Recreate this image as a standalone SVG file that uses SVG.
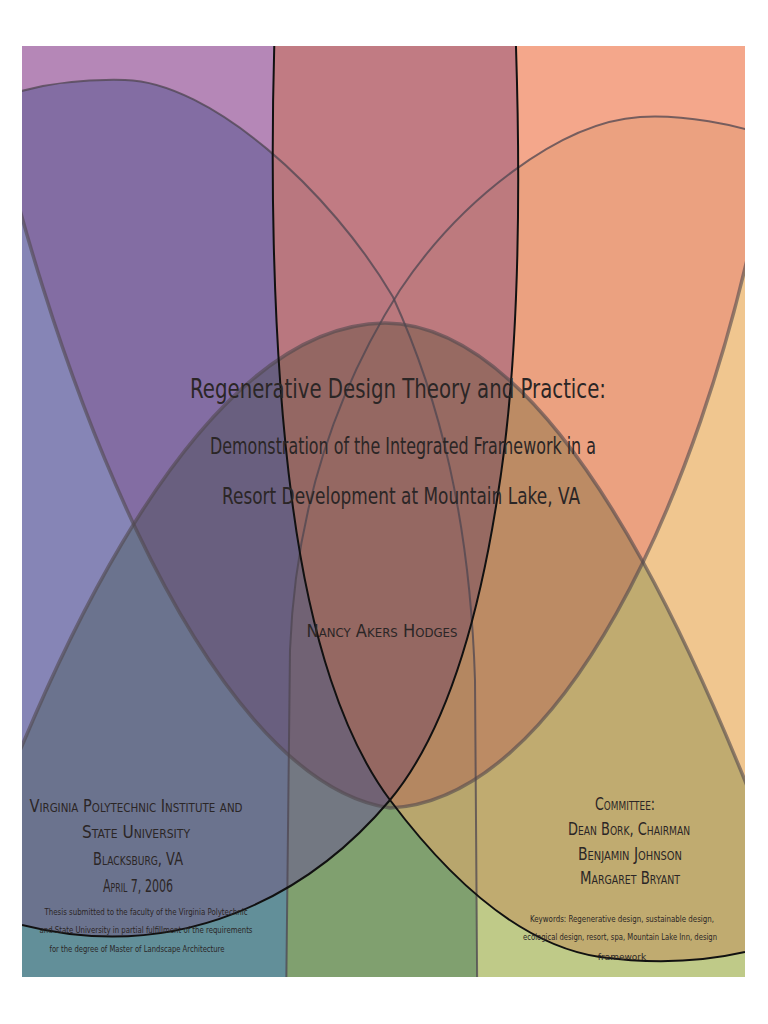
<svg xmlns="http://www.w3.org/2000/svg" width="768" height="1024" viewBox="0 0 768 1024">
<defs>
<clipPath id="page"><rect x="22" y="46" width="723" height="931"/></clipPath>
<path id="pEL" d="M512,-50 C522,150 522,350 497,500 C475,640 440,740 390,800 C310,895 180,965 22,925 L-100,880 L-100,-50 Z"/>
<path id="pER" d="M278,-50 C268,150 272,350 292,500 C310,640 345,740 390,800 C450,880 520,945 600,957 C660,965 710,960 745,952 L900,900 L900,-50 Z"/>
<path id="pP" d="M-100,180 C-60,100 40,78 125,80 C210,82 330,190 393,297 C440,400 470,520 475,680 L478,1100 L-100,1100 Z"/>
<path id="pO" d="M900,230 C860,150 720,112 640,117 C560,122 460,200 400,290 C330,400 295,520 290,650 L285,1100 L900,1100 Z"/>
<path id="pU" d="M-20,40 C40,350 200,780 390,808 C560,800 700,500 760,200 L760,-100 L-20,-100 Z"/>
<path id="pC" d="M-100,1100 C30,650 200,325 385,323 C570,325 730,700 860,1100 Z"/>
<clipPath id="ecl"><use href="#pEL"/><use href="#pER"/></clipPath>
</defs>
<style>
.t{font-family:"DejaVu Sans","Liberation Sans",sans-serif;fill:#2b2626;text-anchor:middle}
.sc{font-variant:small-caps}
.mul{mix-blend-mode:multiply}
.thin{fill:none;stroke:#4e4650;stroke-width:2;stroke-opacity:.75}
.thick{fill:none;stroke:#50484c;stroke-width:3.5;stroke-opacity:.6}
.blk{fill:none;stroke:#111;stroke-width:2}
</style>
<rect width="768" height="1024" fill="#fff"/>
<g id="shapes" clip-path="url(#page)">
<rect x="0" y="0" width="768" height="1024" fill="#fff8d8"/>
<use href="#pP" fill="#1f637f" fill-opacity=".7"/>
<use href="#pO" fill="#94ab53" fill-opacity=".6"/>
<use href="#pEL" fill="#d7c8e0" fill-opacity=".6"/>
<use href="#pER" fill="#f8c690" fill-opacity=".85"/>
<use href="#pEL" fill="#ccc0ee" class="mul"/>
<use href="#pU" fill="#fad0e4" class="mul"/>
<use href="#pC" fill="#ccddc7" class="mul" clip-path="url(#ecl)"/>
</g>
<g id="outlines" clip-path="url(#page)">
<use href="#pP" class="thin"/>
<use href="#pO" class="thin"/>
<use href="#pU" class="thick"/>
<use href="#pC" class="thick"/>
<path class="blk" d="M512,-50 C522,150 522,350 497,500 C475,640 440,740 390,800"/>
<path class="blk" d="M278,-50 C268,150 272,350 292,500 C310,640 345,740 390,800"/>
<path class="blk" stroke-width="3.5" d="M390,800 C310,895 180,965 22,925"/>
<path class="blk" stroke-width="3.5" d="M390,800 C450,880 520,945 600,957 C660,965 710,960 745,952"/>
</g>
<g id="title">
<text class="t" x="398" y="398" font-size="27" textLength="416" lengthAdjust="spacingAndGlyphs">Regenerative Design Theory and Practice:</text>
<text class="t" x="403" y="454" font-size="23" textLength="386" lengthAdjust="spacingAndGlyphs">Demonstration of the Integrated Framework in a</text>
<text class="t" x="401" y="504" font-size="23" textLength="358" lengthAdjust="spacingAndGlyphs">Resort Development at Mountain Lake, VA</text>
</g>
<g id="author">
<text class="t sc" x="382" y="637" font-size="18" textLength="151" lengthAdjust="spacingAndGlyphs">Nancy Akers Hodges</text>
</g>
<g id="institution">
<text class="t sc" x="136" y="812" font-size="17" textLength="213" lengthAdjust="spacingAndGlyphs">Virginia Polytechnic Institute and</text>
<text class="t sc" x="136" y="838" font-size="17" textLength="108" lengthAdjust="spacingAndGlyphs">State University</text>
<text class="t sc" x="138" y="865" font-size="17" textLength="90" lengthAdjust="spacingAndGlyphs">Blacksburg, VA</text>
<text class="t sc" x="138" y="892" font-size="17" textLength="70" lengthAdjust="spacingAndGlyphs">April 7, 2006</text>
<text class="t" x="146" y="915" font-size="9" textLength="203" lengthAdjust="spacingAndGlyphs">Thesis submitted to the faculty of the Virginia Polytechnic</text>
<text class="t" x="146" y="933" font-size="9" textLength="213" lengthAdjust="spacingAndGlyphs">and State University in partial fulfillment of the requirements</text>
<text class="t" x="137" y="952" font-size="9" textLength="175" lengthAdjust="spacingAndGlyphs">for the degree of Master of Landscape Architecture</text>
</g>
<g id="committee">
<text class="t sc" x="625" y="810" font-size="17" textLength="60" lengthAdjust="spacingAndGlyphs">Committee:</text>
<text class="t sc" x="629" y="835" font-size="17" textLength="122" lengthAdjust="spacingAndGlyphs">Dean Bork, Chairman</text>
<text class="t sc" x="630" y="860" font-size="17" textLength="104" lengthAdjust="spacingAndGlyphs">Benjamin Johnson</text>
<text class="t sc" x="630" y="884" font-size="17" textLength="100" lengthAdjust="spacingAndGlyphs">Margaret Bryant</text>
<text class="t" x="622" y="922" font-size="9" textLength="184" lengthAdjust="spacingAndGlyphs">Keywords: Regenerative design, sustainable design,</text>
<text class="t" x="620" y="940" font-size="9" textLength="194" lengthAdjust="spacingAndGlyphs">ecological design, resort, spa, Mountain Lake Inn, design</text>
<text class="t" x="622" y="960" font-size="9">framework</text>
</g>
</svg>
